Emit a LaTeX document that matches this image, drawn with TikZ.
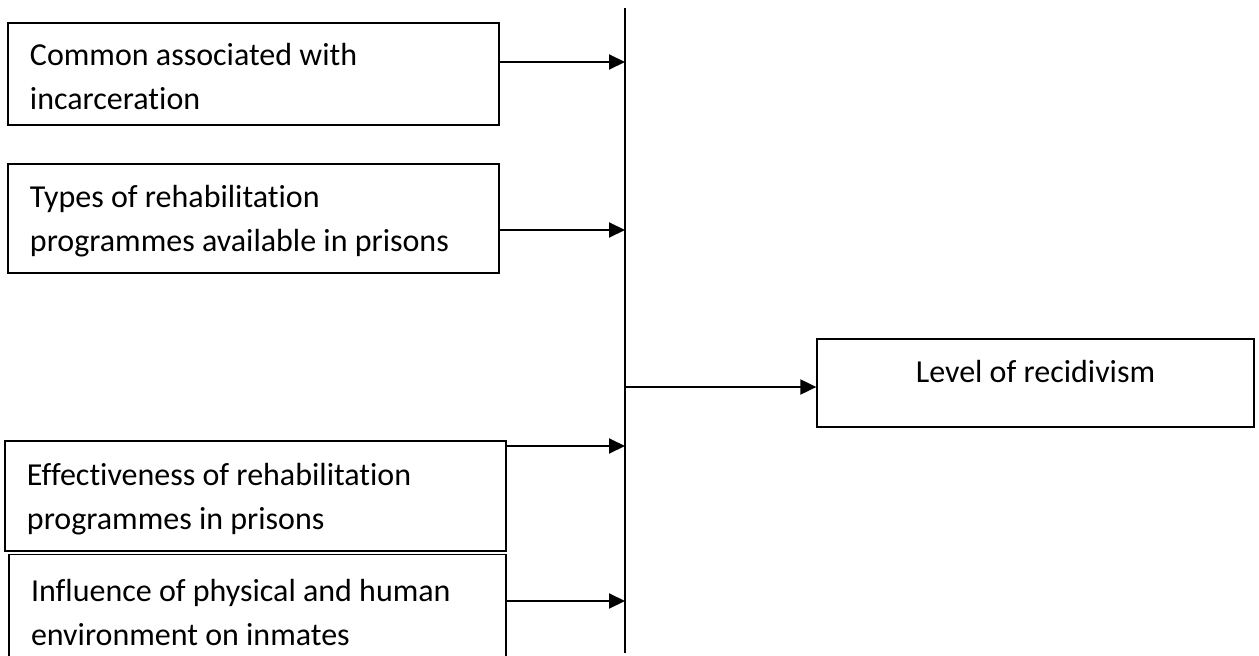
\documentclass[tikz,border=0pt]{standalone}
\usepackage{fontspec}
\setmainfont{Carlito}[Ligatures=NoCommon]
\usetikzlibrary{arrows.meta}
\begin{document}
\begin{tikzpicture}[x=1pt, y=-1pt,
  factor/.style={draw, line width=1.3pt, align=flush left, inner xsep=22pt, inner ysep=0pt, font=\fontsize{32}{44}\selectfont, execute at begin node=\rule{0pt}{28pt}},
  link/.style={-{Triangle[length=16pt,width=15pt]}, line width=2pt}]
\clip (0,0) rectangle (1259,656);
% factors on the left
\node[factor, text width=447pt, minimum height=102pt] (Factor 1) at (253.5,74) {Common associated with\\incarceration};
\node[factor, text width=447pt, minimum height=109pt] (Factor 2) at (253.5,218.5) {Types of rehabilitation\\programmes available in prisons};
\node[factor, text width=457pt, minimum height=110pt] (Factor 3) at (255.5,496) {Effectiveness of rehabilitation\\programmes in prisons};
\node[factor, text width=453pt, minimum height=110pt] (Factor 4) at (257.5,609.5) {Influence of physical and human\\environment on inmates};
% outcome on the right
\node[factor, align=center, inner xsep=0pt, minimum width=437pt, minimum height=88pt, text height=24pt, text depth=26pt] (Outcome) at (1035.5,383) {Level of recidivism};

% the bus line
\coordinate (Bus top) at (625,8);
\coordinate (Bus bottom) at (625,653);
\coordinate (In 1) at (625,62);
\coordinate (In 2) at (625,230);
\coordinate (In 3) at (625,446);
\coordinate (In 4) at (625,601);
\coordinate (Out) at (625,387);
\draw[line width=1.5pt] (Bus top) -- (Bus bottom);

\draw[link] (Factor 1.east |- In 1) -- (In 1);
\draw[link] (Factor 2.east |- In 2) -- (In 2);
\draw[link] (Factor 3.east |- In 3) -- (In 3);
\draw[link] (Factor 4.east |- In 4) -- (In 4);
\draw[link] (Out) -- (Outcome.west |- Out);
\end{tikzpicture}
\end{document}
